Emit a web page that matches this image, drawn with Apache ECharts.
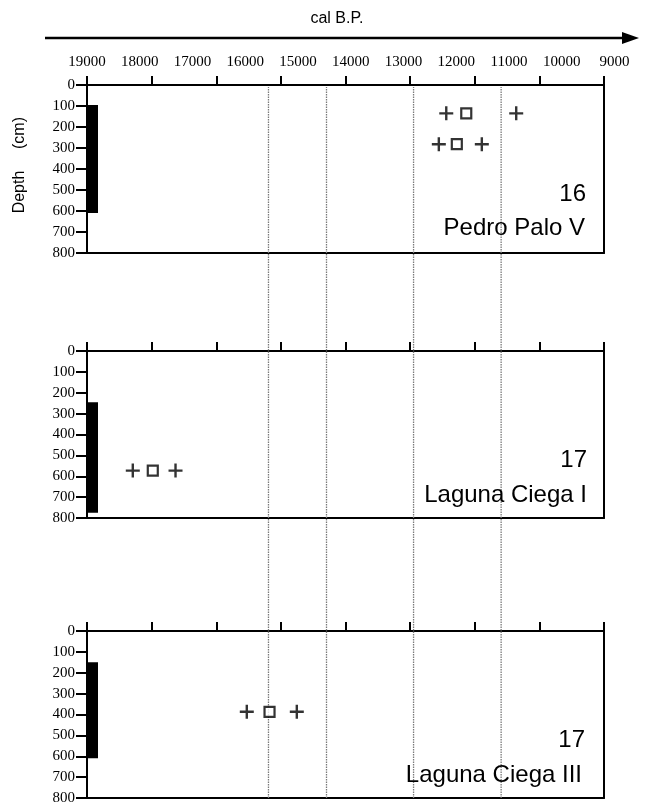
<!DOCTYPE html>
<html>
<head>
<meta charset="utf-8">
<script src="https://cdn.jsdelivr.net/npm/echarts@6/dist/echarts.min.js"></script>
<style>html,body{margin:0;padding:0;background:#fff;}#c{width:645px;height:806px;}</style>
</head>
<body>
<div id="c"></div>
<script>
// ---- data ----
const calLabelMin = 9000, calLabelMax = 19000;       // cal B.P. tick labels
const calPanelMin = 9200, calPanelMax = 19000;       // panel extent
const boundaries = [15560, 14460, 12810, 11150];     // dotted vertical lines (cal B.P.)
const siteNumbers = ['16', '17', '17'];
const siteNames = ['Pedro Palo V', 'Laguna Ciega I', 'Laguna Ciega III'];
const coreTop = [95, 245, 150];       // cm
const coreBottom = [610, 775, 610];   // cm
const plus1 = [[12190, 135], [10864, 135], [12331, 282], [11516, 282]];
const square1 = [[11811, 135], [11990, 282]];
const plus2 = [[18132, 573], [17322, 573]];
const square2 = [[17753, 573]];
const plus3 = [[15971, 387], [15023, 387]];
const square3 = [[15540, 387]];
const plusSets = [plus1, plus2, plus3];
const squareSets = [square1, square2, square3];

// ---- layout ----
const panelTop = [85, 351, 631];
const panelHeight = [168, 167, 167];
const L = 87, W = 517;
const serif = 'Liberation Serif';
const sans = 'Liberation Sans';
const PLUS = 'path://M5.8,0h2.4v5.8h5.8v2.4h-5.8v5.8h-2.4v-5.8h-5.8v-2.4h5.8z';

const grids = [{left: L, width: 10 * W / 9.8, top: 70, height: 1}];
const xAxes = [{
  gridIndex: 0, type: 'value', position: 'top', inverse: true,
  min: calLabelMin, max: calLabelMax, interval: 1000,
  axisLine: {show: false}, axisTick: {show: false}, splitLine: {show: false},
  axisLabel: {margin: 0, fontFamily: serif, fontSize: 15, color: '#000',
              formatter: function (v) { return String(v); }}
}];
const yAxes = [{gridIndex: 0, show: false, min: 0, max: 1}];
const series = [];

for (let i = 0; i < 3; i++) {
  const g = i + 1;
  grids.push({left: L, width: W, top: panelTop[i], height: panelHeight[i]});
  // top tick axis (border with ticks)
  xAxes.push({
    gridIndex: g, type: 'value', position: 'top', min: 0, max: 8, interval: 1,
    axisLine: {show: true, onZero: false, lineStyle: {color: '#000', width: 2}},
    axisTick: {show: true, length: 9, lineStyle: {color: '#000', width: 2}},
    axisLabel: {show: false}, splitLine: {show: false}
  });
  // data axis (bottom border)
  xAxes.push({
    gridIndex: g, type: 'value', position: 'bottom', inverse: true,
    min: calPanelMin, max: calPanelMax,
    axisLine: {show: true, onZero: false, lineStyle: {color: '#000', width: 2}},
    axisTick: {show: false}, axisLabel: {show: false}, splitLine: {show: false}
  });
  yAxes.push({
    gridIndex: g, type: 'value', position: 'left', inverse: true, min: 0, max: 800, interval: 100,
    axisLine: {show: true, onZero: false, lineStyle: {color: '#000', width: 2}},
    axisTick: {show: true, length: 11, lineStyle: {color: '#000', width: 2}},
    axisLabel: {margin: 12, fontFamily: serif, fontSize: 15, color: '#000'},
    splitLine: {show: false}
  });
  yAxes.push({
    gridIndex: g, type: 'value', position: 'right', inverse: true, min: 0, max: 800,
    axisLine: {show: true, onZero: false, lineStyle: {color: '#000', width: 2}},
    axisTick: {show: false}, axisLabel: {show: false}, splitLine: {show: false}
  });
  const xi = 2 + 2 * i, yi = 1 + 2 * i;
  series.push({
    type: 'custom', xAxisIndex: xi, yAxisIndex: yi,
    data: [[calPanelMax, coreTop[i], coreBottom[i]]],
    encode: {x: 0, y: [1, 2]},
    renderItem: function (params, api) {
      const a = api.coord([api.value(0), api.value(1)]);
      const b = api.coord([api.value(0), api.value(2)]);
      return {type: 'rect', shape: {x: a[0] - 1, y: a[1], width: 12, height: b[1] - a[1]},
              style: {fill: '#000'}};
    },
    z: 3
  });
  series.push({
    type: 'scatter', xAxisIndex: xi, yAxisIndex: yi, data: plusSets[i],
    symbol: PLUS, symbolSize: 14, itemStyle: {color: '#000'}, z: 4
  });
  series.push({
    type: 'scatter', xAxisIndex: xi, yAxisIndex: yi, data: squareSets[i],
    symbol: 'rect', symbolSize: 10,
    itemStyle: {color: '#fff', borderColor: '#000', borderWidth: 2.2}, z: 4
  });
}

// overlay grid for the dotted boundary lines
grids.push({left: L, width: W, top: panelTop[0] + 2, bottom: 806 - (panelTop[2] + panelHeight[2])});
xAxes.push({gridIndex: 4, type: 'value', inverse: true, min: calPanelMin, max: calPanelMax, show: false});
yAxes.push({gridIndex: 4, type: 'value', min: 0, max: 1, show: false});
boundaries.forEach(function (v) {
  series.push({
    type: 'line', xAxisIndex: 7, yAxisIndex: 7, data: [[v, 0], [v, 1]],
    symbol: 'none', silent: true,
    lineStyle: {color: '#7a7a7a', width: 1.3, type: [1.5, 1]}, z: 1
  });
});

const textPos = [
  {num: [586, 194], name: [585, 228]},
  {num: [587, 460], name: [587, 495]},
  {num: [585, 740], name: [582, 775]}
];
const graphics = [
  {type: 'text', x: 337, y: 19, style: {text: 'cal B.P.', font: '16px ' + sans, fill: '#000', textAlign: 'center', textVerticalAlign: 'middle'}},
  {type: 'line', shape: {x1: 45, y1: 38, x2: 626, y2: 38}, style: {stroke: '#000', lineWidth: 2.6}},
  {type: 'polygon', shape: {points: [[622, 32], [639, 38], [622, 44]]}, style: {fill: '#000'}},
  {type: 'text', x: 20, y: 192, rotation: Math.PI / 2, style: {text: 'Depth', font: '16px ' + sans, fill: '#000', textAlign: 'center', textVerticalAlign: 'middle'}},
  {type: 'text', x: 20, y: 133, rotation: Math.PI / 2, style: {text: '(cm)', font: '16px ' + sans, fill: '#000', textAlign: 'center', textVerticalAlign: 'middle'}}
];
for (let i = 0; i < 3; i++) {
  graphics.push({type: 'text', x: textPos[i].num[0], y: textPos[i].num[1], z: 10,
    style: {text: siteNumbers[i], font: '24px ' + sans, fill: '#000', textAlign: 'right', textVerticalAlign: 'middle'}});
  graphics.push({type: 'text', x: textPos[i].name[0], y: textPos[i].name[1], z: 10,
    style: {text: siteNames[i], font: '24px ' + sans, fill: '#000', textAlign: 'right', textVerticalAlign: 'middle'}});
}

const chart = echarts.init(document.getElementById('c'), null, {renderer: 'canvas'});
chart.setOption({
  animation: false,
  backgroundColor: '#fff',
  grid: grids, xAxis: xAxes, yAxis: yAxes, series: series,
  graphic: graphics
});
</script>
</body>
</html>
